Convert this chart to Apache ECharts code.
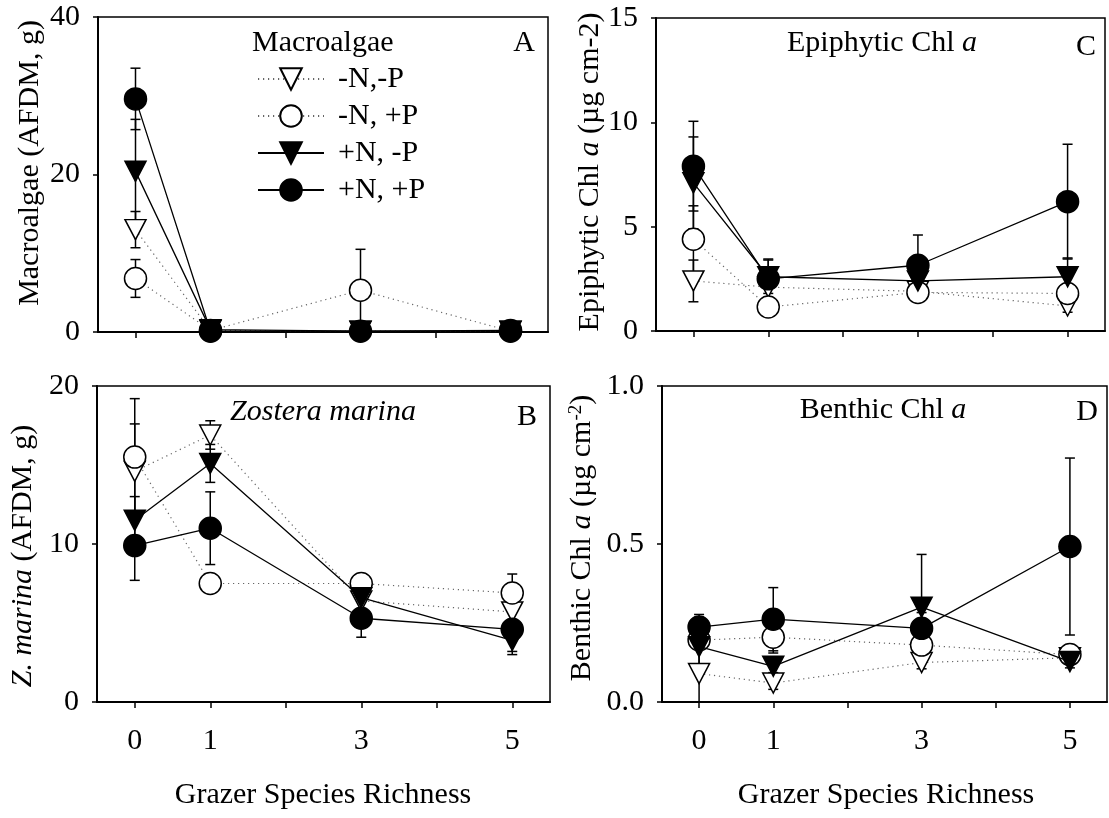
<!DOCTYPE html>
<html><head><meta charset="utf-8">
<script src="https://cdn.jsdelivr.net/npm/echarts@6/dist/echarts.min.js"></script>
<style>html,body{margin:0;padding:0;background:#fff}#c{width:1109px;height:818px}</style>
</head><body><div id="c"></div><script>
// ---- data ----
const categories = ['0','1','2','3','4','5'];
const shownLabels = ['0','1','3','5'];
const richness = [0, 1, 3, 5];
const treatments = ['-N,-P', '-N, +P', '+N, -P', '+N, +P'];

// Panel A: Macroalgae (AFDM, g)
const macro_mNmP = [13.0, 0.2, 0.1, 0.1];
const macro_mNmP_se = [2.3, 0.1, 0.1, 0.1];
const macro_mNpP = [6.8, 0.2, 5.3, 0.1];
const macro_mNpP_se = [2.4, 0.1, 5.2, 0.1];
const macro_pNmP = [20.4, 0.3, 0.1, 0.1];
const macro_pNmP_se = [6.6, 0.1, 0.1, 0.1];
const macro_pNpP = [29.6, 0.1, 0.1, 0.2];
const macro_pNpP_se = [3.9, 0.1, 0.1, 0.1];

// Panel B: Z. marina (AFDM, g)
const zos_mNmP = [14.6, 16.9, 6.4, 5.7];
const zos_mNmP_se = [3.0, 0.9, 0.8, 0.6];
const zos_mNpP = [15.5, 7.5, 7.5, 6.9];
const zos_mNpP_se = [3.7, 0.6, 0.6, 1.2];
const zos_pNmP = [11.5, 15.1, 6.6, 3.9];
const zos_pNmP_se = [1.5, 1.2, 1.1, 0.9];
const zos_pNpP = [9.9, 11.0, 5.3, 4.6];
const zos_pNpP_se = [2.2, 2.3, 1.2, 1.4];

// Panel C: Epiphytic Chl a
const epi_mNmP = [2.4, 2.1, 1.9, 1.2];
const epi_mNmP_se = [1.0, 0.5, 0.3, 0.3];
const epi_mNpP = [4.4, 1.15, 1.85, 1.8];
const epi_mNpP_se = [1.6, 0.4, 0.3, 0.3];
const epi_pNmP = [7.1, 2.6, 2.4, 2.6];
const epi_pNmP_se = [2.2, 0.8, 0.6, 0.9];
const epi_pNpP = [7.9, 2.5, 3.15, 6.2];
const epi_pNpP_se = [2.15, 0.95, 1.45, 2.75];

// Panel D: Benthic Chl a
const ben_mNmP = [0.09, 0.06, 0.125, 0.14];
const ben_mNmP_se = [0.09, 0.02, 0.02, 0.02];
const ben_mNpP = [0.196, 0.205, 0.18, 0.15];
const ben_mNpP_se = [0.02, 0.05, 0.04, 0.02];
const ben_pNmP = [0.175, 0.113, 0.30, 0.128];
const ben_pNmP_se = [0.06, 0.02, 0.167, 0.02];
const ben_pNpP = [0.237, 0.262, 0.233, 0.492];
const ben_pNpP_se = [0.04, 0.10, 0.05, 0.28];

// y axis ticks
const yTicksA = [0, 20, 40];
const yTicksB = [0, 10, 20];
const yTicksC = [0, 5, 10, 15];
const yTicksD = [0, 0.5, 1.0];

// ---- chart ----
const FONT = 'Liberation Serif';
const panels = [
  { grid: {left: 98, top: 17, width: 450, height: 315}, ticks: yTicksA, dec: 0, showX: false,
    means: [macro_mNmP, macro_mNpP, macro_pNmP, macro_pNpP], ses: [macro_mNmP_se, macro_mNpP_se, macro_pNmP_se, macro_pNpP_se] },
  { grid: {left: 97, top: 386, width: 453, height: 316}, ticks: yTicksB, dec: 0, showX: true,
    means: [zos_mNmP, zos_mNpP, zos_pNmP, zos_pNpP], ses: [zos_mNmP_se, zos_mNpP_se, zos_pNmP_se, zos_pNpP_se] },
  { grid: {left: 656, top: 18, width: 449, height: 313}, ticks: yTicksC, dec: 0, showX: false,
    means: [epi_mNmP, epi_mNpP, epi_pNmP, epi_pNpP], ses: [epi_mNmP_se, epi_mNpP_se, epi_pNmP_se, epi_pNpP_se] },
  { grid: {left: 662, top: 386, width: 445, height: 316}, ticks: yTicksD, dec: 1, showX: true,
    means: [ben_mNmP, ben_mNpP, ben_pNmP, ben_pNpP], ses: [ben_mNmP_se, ben_mNpP_se, ben_pNmP_se, ben_pNpP_se] }
];

const styles = [
  { symbol: 'triangle', rotate: 180, size: [21, 20], fill: '#fff', dashed: true },
  { symbol: 'circle', rotate: 0, size: 22, fill: '#fff', dashed: true },
  { symbol: 'triangle', rotate: 180, size: [21, 20], fill: '#000', dashed: false },
  { symbol: 'circle', rotate: 0, size: 22, fill: '#000', dashed: false }
];

const grids = [], xAxes = [], yAxes = [], series = [];
panels.forEach((p, i) => {
  grids.push(Object.assign({ show: true, borderColor: '#000', borderWidth: 1.5, backgroundColor: 'transparent' }, p.grid));
  xAxes.push({
    type: 'category', gridIndex: i, data: categories, boundaryGap: true,
    axisLine: { onZero: false, lineStyle: { color: '#000', width: 2 } },
    axisTick: { show: true, alignWithLabel: true, interval: 0, inside: false, length: 6, lineStyle: { color: '#000', width: 1.5 } },
    axisLabel: { show: p.showX, interval: 0, margin: 24, color: '#000', fontFamily: FONT, fontSize: 30,
      formatter: v => shownLabels.indexOf(v) >= 0 ? v : '' },
    splitLine: { show: false }
  });
  const t = p.ticks;
  yAxes.push({
    type: 'value', gridIndex: i, min: t[0], max: t[t.length - 1], interval: t[1] - t[0],
    axisLine: { show: true, lineStyle: { color: '#000', width: 2 } },
    axisTick: { show: true, inside: false, length: 5, lineStyle: { color: '#000', width: 1.5 } },
    axisLabel: { margin: 18, color: '#000', fontFamily: FONT, fontSize: 30, formatter: v => v.toFixed(p.dec) },
    splitLine: { show: false }
  });
  styles.forEach((s, k) => {
    const data = richness.map((r, j) => [r, p.means[k][j], p.ses[k][j]]);
    series.push({
      type: 'custom', name: 'se' + i + k, xAxisIndex: i, yAxisIndex: i, z: 2, silent: true,
      encode: { x: 0, y: 1 }, data: data, clip: false,
      renderItem: (params, api) => {
        const x = api.value(0), y = api.value(1), e = api.value(2);
        const top = api.coord([x, y + e]);
        const bot = api.coord([x, Math.max(p.ticks[0], y - e)]);
        const hw = 5;
        const st = { stroke: '#000', lineWidth: 1.5 };
        return { type: 'group', children: [
          { type: 'line', shape: { x1: top[0], y1: top[1], x2: bot[0], y2: bot[1] }, style: st },
          { type: 'line', shape: { x1: top[0] - hw, y1: top[1], x2: top[0] + hw, y2: top[1] }, style: st },
          { type: 'line', shape: { x1: bot[0] - hw, y1: bot[1], x2: bot[0] + hw, y2: bot[1] }, style: st }
        ] };
      }
    });
    series.push({
      type: 'line', name: treatments[k], xAxisIndex: i, yAxisIndex: i, z: 3 + k, clip: false,
      data: data.map(d => [d[0], d[1]]),
      symbol: s.symbol, symbolSize: s.size, symbolRotate: s.rotate, showAllSymbol: true,
      itemStyle: { color: s.fill, borderColor: '#000', borderWidth: 1.5, opacity: 1 },
      lineStyle: s.dashed ? { color: '#666', width: 1.2, type: [1.2, 3.8] } : { color: '#000', width: 1.3, type: 'solid' },
      emphasis: { disabled: true }, animation: false
    });
  });
});

function txt(x, y, text, opts) {
  return Object.assign({ type: 'text', x: x, y: y, silent: true,
    style: Object.assign({ text: text, fontFamily: FONT, fontSize: 30, fill: '#000',
      textAlign: 'center', textVerticalAlign: 'middle',
      rich: { i: { fontFamily: FONT, fontSize: 30, fontStyle: 'italic' },
              n: { fontFamily: FONT, fontSize: 30 },
              s: { fontFamily: FONT, fontSize: 19, verticalAlign: 'top', lineHeight: 30 } } }, opts && opts.style || {}) },
    opts && opts.rot ? { rotation: Math.PI / 2 } : {});
}

const graphic = [
  txt(30, 163, '{n|Macroalgae (AFDM, g)}', { rot: true }),
  txt(23, 556, '{i|Z. marina}{n| (AFDM, g)}', { rot: true }),
  txt(590, 172, '{n|Epiphytic Chl }{i|a}{n| (µg cm-2)}', { rot: true }),
  txt(582, 538, '{n|Benthic Chl }{i|a}{n| (µg cm}{s|-2}{n|)}', { rot: true }),
  txt(524, 43, 'A'), txt(527, 417, 'B'), txt(1086, 47, 'C'), txt(1087, 412, 'D'),
  txt(882, 43, '{n|Epiphytic Chl }{i|a}'),
  txt(323, 412, '{i|Zostera marina}'),
  txt(883, 410, '{n|Benthic Chl }{i|a}'),
  txt(252, 43, 'Macroalgae', { style: { textAlign: 'left' } }),
  txt(323, 795, 'Grazer Species Richness'),
  txt(886, 795, 'Grazer Species Richness')
];

const option = {
  backgroundColor: '#fff',
  animation: false,
  grid: grids, xAxis: xAxes, yAxis: yAxes, series: series, graphic: graphic,
  legend: {
    data: treatments, orient: 'vertical', left: 252, top: 59, itemWidth: 66, itemHeight: 27,
    itemGap: 7, selectedMode: false,
    textStyle: { fontFamily: FONT, fontSize: 30, color: '#000', padding: [0, 0, 0, 9] }
  }
};
const chart = echarts.init(document.getElementById('c'), null, { renderer: 'canvas' });
chart.setOption(option);
</script></body></html>
